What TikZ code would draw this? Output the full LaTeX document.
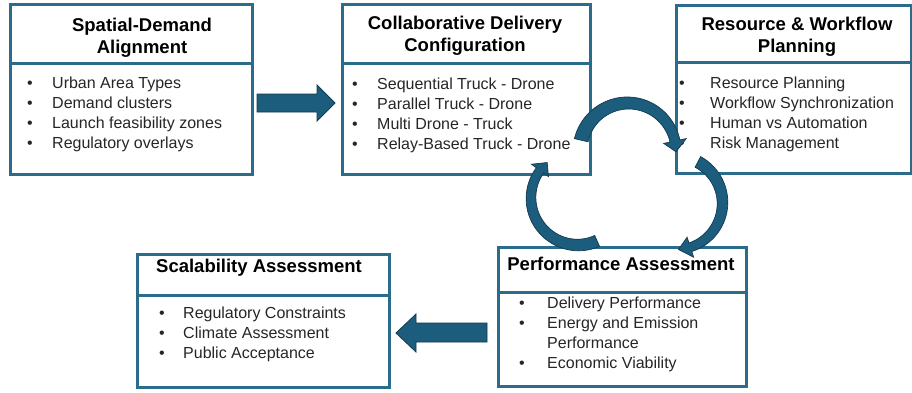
\documentclass[tikz,border=0pt]{standalone}
\usepackage{fontspec}
\setmainfont{Liberation Sans}
\definecolor{boxblue}{RGB}{43,108,140}
\definecolor{arrowfill}{RGB}{28,92,124}
\definecolor{arrowline}{RGB}{18,58,80}
\definecolor{textgray}{RGB}{38,38,38}
\newcommand{\mycurvarrow}[9]{%
  \filldraw[curvst]
   plot[domain=#4:#5,samples=50,variable=\t]
     ({#1+(#3+(#7+(#8-(#7))*(\t-(#4))/(#5-(#4))))*cos(\t)},{#2+(#3+(#7+(#8-(#7))*(\t-(#4))/(#5-(#4))))*sin(\t)})
   -- ({#1+(#3+#9)*cos(#5)},{#2+(#3+#9)*sin(#5)})
   -- ({#1+#3*cos(#6)},{#2+#3*sin(#6)})
   -- ({#1+(#3-#9)*cos(#5)},{#2+(#3-#9)*sin(#5)})
   -- plot[domain=#5:#4,samples=50,variable=\t]
     ({#1+(#3-(#7+(#8-(#7))*(\t-(#4))/(#5-(#4))))*cos(\t)},{#2+(#3-(#7+(#8-(#7))*(\t-(#4))/(#5-(#4))))*sin(\t)})
   -- cycle;}
\begin{document}
\begin{tikzpicture}[x=1pt,y=-1pt,
  boxpart/.style={draw=boxblue, line width=2.6pt, fill=white, inner sep=0pt, anchor=north west},
  titlest/.style={font=\fontsize{18.5}{22}\selectfont\bfseries, anchor=base, inner sep=0pt, text=black},
  bodyst/.style={font=\fontsize{16}{20}\selectfont, anchor=base west, inner sep=0pt, text=textgray},
  blockst/.style={fill=arrowfill, draw=arrowline, line width=0.8pt, line join=miter},
  curvst/.style={fill=arrowfill, draw=arrowline, line width=0.7pt, line join=miter}]
\useasboundingbox (0,0) rectangle (912,392);
\fill[white] (0,0) rectangle (912,392);

% Box 1
\node[boxpart, minimum width=242pt, minimum height=59pt] (b1t) at (9,3) {};
\node[boxpart, minimum width=242pt, minimum height=111pt] (b1b) at (9,62) {};
\node[titlest] (t1a) at (142,31) {Spatial-Demand};
\node[titlest] (t1b) at (142,53) {Alignment};
\node[bodyst] (p1a) at (27,88) {•};
\node[bodyst] (p1b) at (27,108) {•};
\node[bodyst] (p1c) at (27,128) {•};
\node[bodyst] (p1d) at (27,148) {•};
\node[bodyst] (l1a) at (52,88) {Urban Area Types};
\node[bodyst] (l1b) at (52,108) {Demand clusters};
\node[bodyst] (l1c) at (52,128) {Launch feasibility zones};
\node[bodyst] (l1d) at (52,148) {Regulatory overlays};

% Box 2
\node[boxpart, minimum width=248pt, minimum height=59pt] (b2t) at (341,3) {};
\node[boxpart, minimum width=248pt, minimum height=111pt] (b2b) at (341,62) {};
\node[titlest] (t2a) at (465,29) {Collaborative Delivery};
\node[titlest] (t2b) at (465,51) {Configuration};
\node[bodyst] (p2a) at (352,89) {•};
\node[bodyst] (p2b) at (352,109) {•};
\node[bodyst] (p2c) at (352,129) {•};
\node[bodyst] (p2d) at (352,149) {•};
\node[bodyst] (l2a) at (377,89) {Sequential Truck - Drone};
\node[bodyst] (l2b) at (377,109) {Parallel Truck - Drone};
\node[bodyst] (l2c) at (377,129) {Multi Drone - Truck};
\node[bodyst] (l2d) at (377,149) {Relay-Based Truck - Drone};

% Box 3
\node[boxpart, minimum width=235pt, minimum height=57pt] (b3t) at (675,4) {};
\node[boxpart, minimum width=235pt, minimum height=111pt] (b3b) at (675,61) {};
\node[titlest] (t3a) at (797,30) {Resource \& Workflow};
\node[titlest] (t3b) at (797,52) {Planning};
\node[bodyst] (p3a) at (679,88) {•};
\node[bodyst] (p3b) at (679,108) {•};
\node[bodyst] (p3c) at (679,128) {•};
\node[bodyst] (p3d) at (679,148) {•};
\node[bodyst] (l3a) at (710,88) {Resource Planning};
\node[bodyst] (l3b) at (710,108) {Workflow Synchronization};
\node[bodyst] (l3c) at (710,128) {Human vs Automation};
\node[bodyst] (l3d) at (710,148) {Risk Management};

% Box 4
\node[boxpart, minimum width=252pt, minimum height=41pt] (b4t) at (136,253) {};
\node[boxpart, minimum width=252pt, minimum height=92pt] (b4b) at (136,294) {};
\node[titlest] (t4a) at (259,272) {Scalability Assessment};
\node[bodyst] (p4a) at (159,318) {•};
\node[bodyst] (p4b) at (159,338) {•};
\node[bodyst] (p4c) at (159,358) {•};
\node[bodyst] (l4a) at (183,318) {Regulatory Constraints};
\node[bodyst] (l4b) at (183,338) {Climate Assessment};
\node[bodyst] (l4c) at (183,358) {Public Acceptance};

% Box 5
\node[boxpart, minimum width=248pt, minimum height=45pt] (b5t) at (497,246) {};
\node[boxpart, minimum width=248pt, minimum height=94pt] (b5b) at (497,291) {};
\node[titlest] (t5a) at (621,270) {Performance Assessment};
\node[bodyst] (p5a) at (519,308) {•};
\node[bodyst] (p5b) at (519,328) {•};
\node[bodyst] (p5c) at (519,368) {•};
\node[bodyst] (l5a) at (547,308) {Delivery Performance};
\node[bodyst] (l5b) at (547,328) {Energy and Emission};
\node[bodyst] (l5c) at (547,348) {Performance};
\node[bodyst] (l5d) at (547,368) {Economic Viability};

% Block arrows
\draw[blockst] (257,94) -- (317,94) -- (317,85) -- (335,103) -- (317,121) -- (317,112) -- (257,112) -- cycle;
\draw[blockst] (487,323) -- (416,323) -- (416,314) -- (396,333) -- (416,352) -- (416,342) -- (487,342) -- cycle;

% Circular arrows
\mycurvarrow{628}{151}{48}{193}{348}{361}{7}{5}{11.5}
\mycurvarrow{676}{203}{46.5}{-62}{72}{87}{6}{4.5}{10.5}
\mycurvarrow{578}{198}{47}{66}{216}{229}{6}{4.5}{10.5}
\end{tikzpicture}
\end{document}
